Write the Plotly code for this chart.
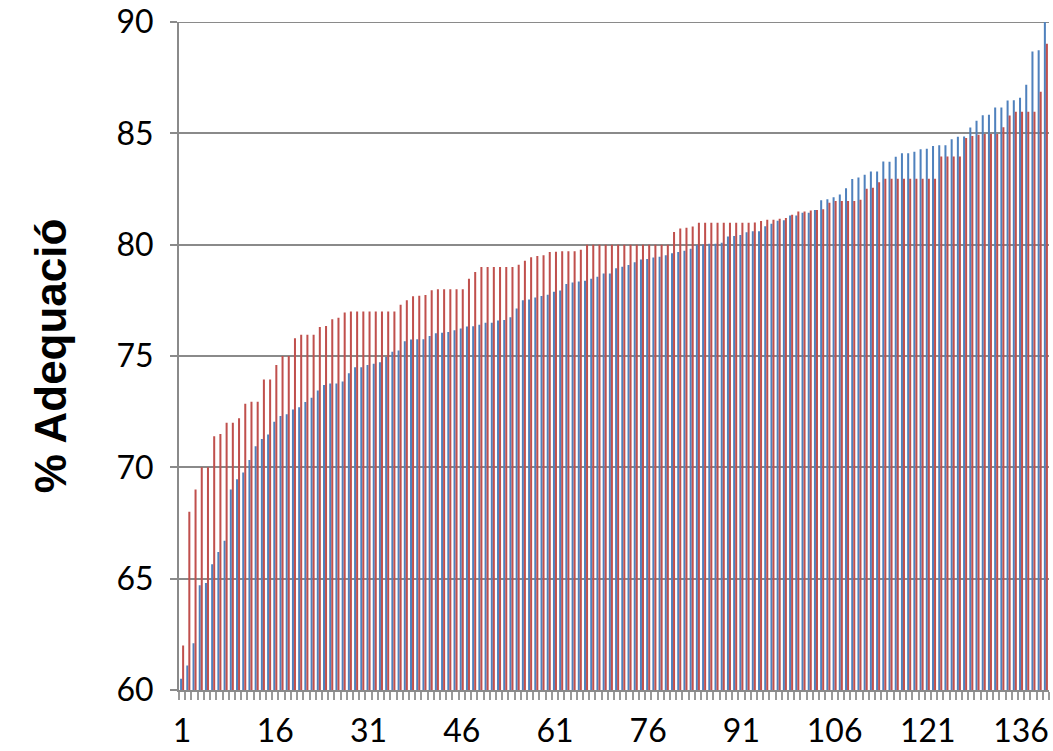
import plotly.graph_objects as go

categories = list(range(1, 141))

blue_values = [
    60.5, 61.1, 62.1, 64.7, 64.8, 65.65, 66.2, 66.7, 69.0, 69.47,
    69.77, 70.33, 70.95, 71.27, 71.47, 72.05, 72.3, 72.38, 72.6, 72.7,
    72.93, 73.13, 73.45, 73.7, 73.77, 73.77, 73.86, 74.23, 74.49, 74.5,
    74.6, 74.65, 74.72, 74.95, 75.19, 75.25, 75.66, 75.74, 75.75, 75.75,
    75.9, 76.02, 76.04, 76.08, 76.16, 76.24, 76.32, 76.34, 76.4, 76.49,
    76.49, 76.59, 76.62, 76.74, 77.13, 77.5, 77.54, 77.63, 77.69, 77.75,
    77.88, 77.94, 78.23, 78.3, 78.35, 78.38, 78.47, 78.56, 78.7, 78.71,
    78.94, 79.01, 79.09, 79.21, 79.33, 79.36, 79.42, 79.46, 79.52, 79.61,
    79.67, 79.73, 79.82, 79.99, 80.01, 80.04, 80.04, 80.09, 80.37, 80.39,
    80.43, 80.56, 80.6, 80.6, 80.83, 80.94, 81.07, 81.1, 81.31, 81.31,
    81.43, 81.43, 81.56, 81.99, 82.04, 82.13, 82.25, 82.53, 82.95, 83.02,
    83.14, 83.29, 83.29, 83.74, 83.72, 83.95, 84.1, 84.11, 84.17, 84.28,
    84.31, 84.43, 84.46, 84.46, 84.73, 84.85, 84.86, 85.26, 85.56, 85.81,
    85.84, 86.16, 86.16, 86.48, 86.49, 86.6, 87.18, 88.67, 88.73, 90.5,
]

red_values = [
    62.0, 68.0, 69.0, 70.0, 70.0, 71.4, 71.5, 72.0, 72.0, 72.2,
    72.85, 72.95, 72.95, 73.95, 73.95, 74.6, 75.0, 75.0, 75.8, 75.95,
    75.95, 75.95, 76.3, 76.35, 76.65, 76.72, 76.95, 77.0, 77.0, 77.0,
    77.0, 77.0, 77.0, 77.0, 77.0, 77.3, 77.5, 77.68, 77.71, 77.74,
    77.95, 78.0, 78.0, 78.0, 78.0, 78.0, 78.47, 78.77, 79.0, 79.0,
    79.0, 79.0, 79.0, 79.0, 79.1, 79.28, 79.44, 79.49, 79.53, 79.67,
    79.68, 79.7, 79.7, 79.7, 79.77, 80.0, 80.0, 80.0, 80.0, 80.0,
    80.0, 80.0, 80.0, 80.0, 80.0, 80.0, 80.0, 80.0, 80.0, 80.57,
    80.73, 80.76, 80.82, 80.98, 80.98, 80.98, 80.98, 80.98, 80.98, 80.98,
    80.98, 80.98, 81.0, 81.06, 81.12, 81.12, 81.16, 81.2, 81.34, 81.49,
    81.49, 81.53, 81.56, 81.59, 81.88, 81.96, 81.96, 81.96, 81.96, 82.02,
    82.51, 82.56, 82.8, 82.96, 82.96, 82.96, 82.96, 82.96, 82.96, 82.96,
    82.96, 82.96, 83.96, 83.96, 83.96, 83.96, 84.79, 84.88, 84.94, 84.97,
    84.97, 84.97, 85.27, 85.8, 85.97, 85.97, 85.97, 85.97, 86.87, 89.02,
]

label_cats = list(range(1, 141, 15))
label_text = [str(c) for c in label_cats]

y_ticks = [60, 65, 70, 75, 80, 85, 90]
y_min, y_max = 60, 90

GRID = "#8a8a8a"
TICKFONT = dict(family="Lato, Liberation Sans, sans-serif", size=32, color="black")

fig = go.Figure()
fig.add_trace(go.Bar(x=categories, y=blue_values, name="Sèrie 1",
                     marker=dict(color="#4F81BD", line=dict(width=0))))
fig.add_trace(go.Bar(x=categories, y=red_values, name="Sèrie 2",
                     marker=dict(color="#C0504D", line=dict(width=0))))

fig.update_layout(
    width=1053, height=751,
    margin=dict(l=179, r=4, t=22, b=61),
    paper_bgcolor="white", plot_bgcolor="white",
    barmode="group", bargap=0.35, bargroupgap=0.0,
    showlegend=False,
    font=TICKFONT,
    xaxis=dict(
        type="linear", range=[0.5, 140.5], automargin=False,
        tickmode="array", tickvals=label_cats, ticktext=label_text,
        ticks="", showgrid=False, zeroline=False,
        showline=True, linecolor=GRID, linewidth=2,
        ticklabelstandoff=12,
        tickfont=TICKFONT,
        minor=dict(ticks="outside", tick0=0.5, dtick=1, ticklen=8,
                   tickcolor="#999999", tickwidth=1.5, showgrid=False),
    ),
    yaxis=dict(
        range=[y_min, y_max], automargin=False,
        tickmode="array", tickvals=y_ticks,
        showgrid=True, gridcolor=GRID, gridwidth=2, zeroline=False,
        showline=True, linecolor=GRID, linewidth=2,
        ticks="outside", ticklen=7, tickcolor=GRID, tickwidth=2,
        ticklabelstandoff=10,
        tickfont=TICKFONT,
    ),
    shapes=[dict(
        type="line", xref="paper", yref="y", x0=0, x1=1, y0=y_max, y1=y_max,
        line=dict(color=GRID, width=2), layer="below",
    )],
    annotations=[dict(
        text="<b>% Adequació</b>", textangle=-90,
        xref="paper", yref="paper", x=-0.148, y=0.5,
        xanchor="center", yanchor="middle", showarrow=False,
        font=dict(family="Liberation Sans, Arial, sans-serif", size=44, color="black"),
    )],
)

fig.write_html(
    "out.html",
    config={"displayModeBar": False},
    post_script="document.body.style.margin='0px';document.body.style.overflow='hidden';",
)
